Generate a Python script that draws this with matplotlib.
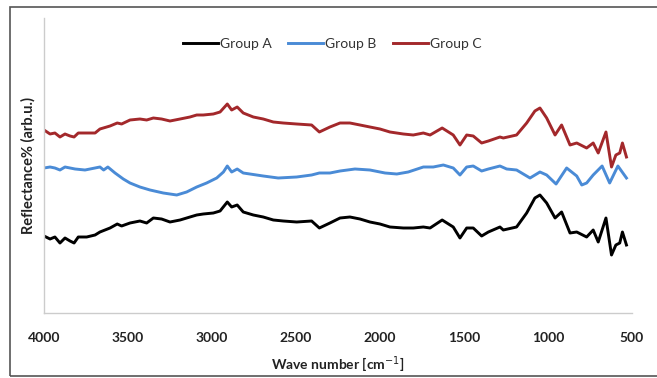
import matplotlib
matplotlib.use("Agg")
import matplotlib.pyplot as plt
from matplotlib.patches import Rectangle

wn_a = [4000, 3964, 3935, 3905, 3875, 3845, 3821, 3796, 3746, 3696, 3667, 3607, 3564,
        3538, 3488, 3429, 3389, 3349, 3300, 3250, 3190, 3131, 3091, 3052, 2992, 2952,
        2909, 2883, 2850, 2814, 2754, 2695, 2635, 2576, 2496, 2407, 2361, 2298, 2238,
        2179, 2119, 2060, 2000, 1941, 1861, 1802, 1742, 1702, 1630, 1564, 1524, 1484,
        1445, 1395, 1355, 1286, 1266, 1187, 1127, 1078, 1048, 1008, 958, 919, 869, 829,
        770, 731, 701, 655, 622, 596, 573, 557, 533]
group_a = [77, 74, 76, 70, 75, 72, 70, 76, 76, 78, 81, 85, 89, 87, 90, 92, 90, 95, 94,
           91, 93, 96, 98, 99, 100, 102, 111, 106, 108, 101, 98, 96, 93, 92, 91, 92, 85,
           90, 95, 96, 94, 91, 89, 86, 85, 85, 86, 85, 93, 86, 75, 85, 85, 77, 81, 86,
           83, 86, 100, 115, 118, 110, 95, 101, 80, 81, 76, 83, 71, 95, 58, 68, 70, 81, 68]

wn_b = [4000, 3964, 3935, 3905, 3875, 3815, 3756, 3726, 3667, 3645, 3620, 3577, 3528,
        3488, 3429, 3369, 3290, 3210, 3151, 3091, 3032, 2972, 2932, 2909, 2883, 2850,
        2814, 2695, 2606, 2496, 2407, 2361, 2298, 2238, 2149, 2060, 1970, 1900, 1832,
        1742, 1702, 1683, 1623, 1564, 1524, 1484, 1445, 1395, 1355, 1286, 1246, 1187,
        1107, 1048, 1008, 952, 889, 829, 799, 770, 731, 678, 633, 584, 533]
group_b = [145, 146, 145, 143, 146, 144, 143, 144, 146, 143, 146, 140, 134, 130, 126,
           123, 120, 118, 121, 126, 130, 135, 141, 147, 141, 144, 140, 137, 135, 136,
           138, 140, 140, 142, 144, 143, 140, 139, 141, 146, 146, 146, 148, 145, 138,
           146, 147, 142, 144, 147, 144, 143, 135, 141, 138, 129, 145, 137, 128, 130,
           138, 147, 130, 147, 135]

wn_c = wn_a
group_c = [183, 179, 180, 176, 179, 177, 176, 180, 180, 180, 184, 187, 190, 189, 193,
           194, 193, 195, 194, 192, 194, 196, 198, 198, 199, 201, 209, 203, 206, 200,
           196, 194, 191, 190, 189, 188, 181, 186, 190, 190, 188, 186, 184, 181, 179,
           178, 180, 178, 185, 178, 168, 178, 177, 170, 172, 176, 175, 178, 190, 202,
           205, 195, 178, 188, 168, 170, 165, 170, 160, 181, 146, 158, 160, 170, 156]

series_names = ["Group A", "Group B", "Group C"]
colors = ["#000000", "#4a8bd6", "#a3282b"]

fig = plt.figure(figsize=(6.57, 3.78), dpi=100)
ax = fig.add_axes([44/657, 1-313/378, (632-44)/657, (313-18)/378])

for xs, vals, name, c in zip([wn_a, wn_b, wn_c], [group_a, group_b, group_c],
                             series_names, colors):
    ax.plot(xs, vals, color=c, lw=2.1, label=name, solid_joinstyle="round")

ax.set_xlim(4000, 500)
ax.set_ylim(0, 295)
ax.set_xticks([4000, 3500, 3000, 2500, 2000, 1500, 1000, 500])
ax.set_yticks([])
ax.tick_params(axis="x", length=0, pad=14)
for lab in ax.get_xticklabels():
    lab.set_fontfamily("Lato")
    lab.set_fontweight("bold")
    lab.set_fontsize(10)
    lab.set_color("#222222")
for s in ["top", "right"]:
    ax.spines[s].set_visible(False)
for s in ["left", "bottom"]:
    ax.spines[s].set_color("#cccccc")
    ax.spines[s].set_linewidth(1.0)

ax.set_xlabel("Wave number [cm$^{-1}$]", fontfamily="Lato", fontweight="bold",
              fontsize=10, color="#222222", labelpad=7)
ax.set_ylabel("Reflectance% (arb.u.)", fontfamily="Lato", fontweight="bold",
              fontsize=10.5, color="#222222", labelpad=6)

leg = ax.legend(loc="upper center", bbox_to_anchor=(0.49, 0.975), ncol=3, frameon=False,
                prop={"family": "Lato", "size": 10}, handlelength=2.5,
                handletextpad=0.15, columnspacing=1.2)
for t in leg.get_texts():
    t.set_color("#333333")

fig.patches.append(Rectangle((10/657, 2/378), 1.0, 1-9/378, transform=fig.transFigure,
                             fill=False, edgecolor="#555555", lw=1.2))

fig.savefig("out.png", dpi=100)
